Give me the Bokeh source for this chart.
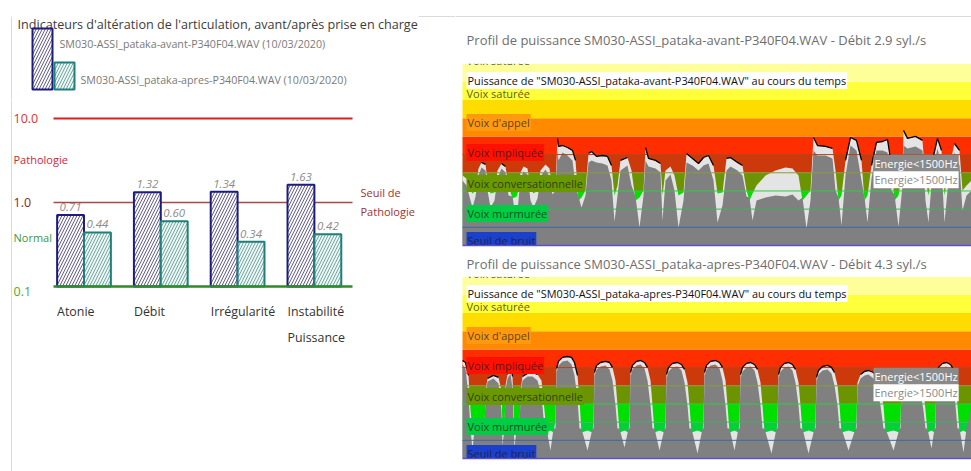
import numpy as np
from bokeh.plotting import figure
from bokeh.layouts import row, column
from bokeh.models import Range1d
from bokeh.core.properties import value
from bokeh.embed import file_html
from bokeh.resources import INLINE

FONT = "Open Sans"

# ------------------------------------------------------------------ data: left chart
categories = ["Atonie", "Débit", "Irrégularité", "Instabilité\nPuissance"]
avant = [0.71, 1.32, 1.34, 1.63]
apres = [0.44, 0.60, 0.34, 0.42]
chart_title = "Indicateurs d'altération de l'articulation, avant/après prise en charge"
legend_avant = "SM030-ASSI_pataka-avant-P340F04.WAV (10/03/2020)"
legend_apres = "SM030-ASSI_pataka-apres-P340F04.WAV (10/03/2020)"
seuil_patho = 10.0
seuil = 1.0
seuil_normal = 0.1

# ------------------------------------------------------------------ data: power profiles (t in s, level in dB)
t_avant = [0.00, 0.08, 0.16, 0.20, 0.26, 0.32, 0.38, 0.46, 0.50, 0.56,
           0.64, 0.70, 0.78, 0.86, 0.92, 1.00, 1.08, 1.12, 1.16, 1.22,
           1.30, 1.36, 1.42, 1.50, 1.56, 1.66, 1.74, 1.80, 1.86, 1.90,
           1.92, 2.00, 2.10, 2.20, 2.26, 2.32, 2.38, 2.46, 2.52, 2.58,
           2.68, 2.80, 2.90, 2.98, 3.04, 3.10, 3.16, 3.30, 3.38, 3.46,
           3.54, 3.62, 3.66, 3.72, 3.86, 3.96, 4.00, 4.06, 4.16, 4.24,
           4.32, 4.42, 4.48, 4.60, 4.72, 4.82, 4.92, 5.02, 5.10, 5.20,
           5.28, 5.36, 5.50, 5.60, 5.68, 5.74, 5.80, 5.88, 6.06, 6.26,
           6.46, 6.60, 6.72, 6.80, 6.88, 6.96, 7.02, 7.10, 7.26, 7.40,
           7.46, 7.52, 7.58, 7.66, 7.76, 7.88, 7.98, 8.04, 8.10, 8.18,
           8.28, 8.40, 8.50, 8.58, 8.64, 8.72, 8.80, 8.82, 8.90, 9.06,
           9.20, 9.26, 9.32, 9.40, 9.50, 9.58, 9.64, 9.72, 9.84, 9.94,
           10.00, 10.08, 10.18]
light_avant = [38.5, 36.9, 30.3, 28.6, 30.3, 42.4, 45.7, 44.6, 35.8, 28.6,
               29.2, 41.3, 45.1, 43.5, 33.0, 25.9, 27.0, 30.3, 40.2, 43.5,
               42.4, 31.4, 28.6, 30.3, 41.3, 44.6, 42.4, 30.3, 33.0, 58.9,
               54.5, 55.0, 53.9, 52.3, 46.8, 24.8, 26.4, 30.3, 50.6, 51.7,
               49.0, 49.5, 49.0, 44.0, 27.5, 33.0, 46.8, 48.4, 41.3, 24.8,
               26.4, 30.3, 53.9, 47.9, 46.8, 45.1, 27.5, 41.3, 43.5, 38.5,
               27.5, 29.2, 50.6, 47.9, 45.1, 48.4, 49.5, 44.0, 28.6, 29.2,
               47.9, 48.4, 45.7, 44.0, 30.3, 24.8, 28.6, 33.0, 38.5, 41.3,
               42.9, 42.4, 38.5, 24.8, 27.5, 30.3, 59.4, 55.0, 54.5, 53.4,
               41.3, 24.8, 27.5, 46.8, 59.4, 57.8, 46.8, 24.8, 27.5, 44.0,
               56.7, 57.2, 58.3, 44.0, 24.8, 27.5, 41.3, 63.3, 58.9, 60.0,
               57.8, 35.8, 27.5, 46.8, 58.9, 52.3, 27.5, 41.3, 56.1, 52.3,
               30.3, 33.0, 35.8]
gray_avant = [35.8, 33.0, 24.8, 20.9, 27.0, 38.5, 42.9, 41.3, 30.3, 20.9,
              24.8, 36.9, 42.4, 40.2, 27.5, 27.0, 12.7, 24.8, 36.9, 40.7,
              39.1, 24.8, 20.9, 25.9, 38.0, 41.8, 38.0, 28.1, 30.3, 52.3,
              46.8, 51.2, 49.5, 46.8, 33.0, 27.0, 20.9, 27.5, 45.7, 46.8,
              45.7, 45.1, 44.0, 35.8, 13.0, 27.5, 41.3, 44.0, 33.0, 27.0,
              9.9, 27.5, 46.8, 43.5, 42.4, 40.2, 13.8, 35.8, 39.1, 30.3,
              9.9, 24.8, 45.7, 44.0, 41.3, 44.0, 45.1, 35.8, 12.7, 22.0,
              41.3, 43.5, 41.3, 38.5, 27.0, 26.4, 13.8, 24.8, 26.4, 27.5,
              27.0, 28.1, 24.8, 26.4, 9.4, 24.8, 52.3, 49.5, 49.5, 47.9,
              30.3, 26.4, 11.0, 38.5, 55.0, 52.3, 35.8, 26.4, 12.7, 36.9,
              52.3, 52.3, 51.2, 30.3, 28.1, 10.5, 33.0, 55.0, 53.4, 54.5,
              52.3, 24.8, 12.7, 41.3, 53.4, 44.0, 12.7, 35.8, 51.2, 44.0,
              19.3, 27.5, 30.3]

t_apres = [0.00, 0.06, 0.12, 0.16, 0.20, 0.24, 0.44, 0.46, 0.50, 0.62,
           0.72, 0.78, 0.80, 0.84, 0.86, 0.90, 0.96, 1.00, 1.04, 1.08,
           1.14, 1.16, 1.20, 1.30, 1.40, 1.50, 1.58, 1.64, 1.68, 1.76,
           1.82, 1.86, 1.88, 1.92, 2.00, 2.10, 2.18, 2.24, 2.30, 2.34,
           2.38, 2.50, 2.60, 2.62, 2.64, 2.68, 2.76, 2.86, 2.94, 3.00,
           3.06, 3.10, 3.14, 3.24, 3.32, 3.34, 3.36, 3.40, 3.48, 3.56,
           3.64, 3.70, 3.76, 3.80, 3.84, 3.94, 4.04, 4.06, 4.08, 4.12,
           4.20, 4.30, 4.38, 4.44, 4.50, 4.54, 4.58, 4.70, 4.80, 4.82,
           4.84, 4.88, 4.96, 5.06, 5.14, 5.20, 5.26, 5.30, 5.34, 5.44,
           5.52, 5.54, 5.56, 5.60, 5.68, 5.76, 5.84, 5.90, 5.96, 6.00,
           6.04, 6.18, 6.28, 6.30, 6.32, 6.36, 6.44, 6.52, 6.60, 6.66,
           6.72, 6.76, 6.80, 6.92, 7.04, 7.06, 7.08, 7.12, 7.20, 7.30,
           7.38, 7.44, 7.50, 7.54, 7.58, 7.72, 7.86, 7.88, 7.90, 7.96,
           8.04, 8.12, 8.22, 8.30, 8.36, 8.42, 8.46, 8.62, 8.74, 8.76,
           8.78, 8.84, 8.92, 9.00, 9.08, 9.16, 9.22, 9.26, 9.30, 9.38,
           9.44, 9.46, 9.48, 9.52, 9.60, 9.68, 9.76, 9.82, 9.86, 9.90,
           9.94, 10.02, 10.08, 10.14, 10.18]
light_apres = [53.9, 52.8, 45.7, 26.4, 15.4, 14.3, 14.3, 37.4, 44.0, 45.7,
               44.6, 37.4, 15.4, 14.3, 40.2, 46.2, 55.6, 45.1, 15.4, 14.3,
               14.3, 37.4, 45.1, 46.8, 47.3, 46.2, 42.9, 26.4, 14.3, 15.4,
               14.3, 20.9, 49.5, 53.4, 55.6, 56.1, 55.6, 52.8, 45.7, 31.9,
               14.3, 15.4, 14.3, 20.9, 47.3, 51.2, 52.8, 53.4, 52.8, 50.1,
               42.9, 29.2, 14.3, 15.4, 14.3, 20.9, 47.3, 51.2, 53.4, 53.9,
               52.8, 50.1, 42.9, 29.2, 14.3, 15.4, 14.3, 20.9, 46.2, 50.1,
               52.3, 52.8, 51.7, 49.0, 41.8, 29.2, 14.3, 15.4, 14.3, 20.9,
               47.3, 51.2, 53.4, 53.9, 52.8, 50.1, 42.9, 29.2, 14.3, 15.4,
               14.3, 20.9, 46.2, 50.1, 52.3, 52.8, 51.7, 49.0, 41.8, 29.2,
               14.3, 15.4, 14.3, 20.9, 46.2, 50.1, 52.3, 52.8, 51.7, 49.0,
               41.8, 29.2, 14.3, 15.4, 14.3, 20.9, 44.6, 48.4, 50.6, 51.2,
               50.1, 47.3, 40.2, 29.2, 14.3, 15.4, 14.3, 20.9, 41.8, 46.2,
               47.9, 48.4, 47.3, 44.6, 38.5, 29.2, 14.3, 15.4, 14.3, 20.9,
               40.7, 45.1, 46.8, 47.3, 46.2, 43.5, 37.4, 26.4, 14.3, 15.4,
               14.3, 20.9, 46.2, 50.1, 52.3, 52.8, 51.7, 49.0, 41.8, 29.2,
               14.3, 15.4, 14.3, 20.9, 26.4]
gray_apres = [51.7, 49.5, 34.7, 16.5, 4.4, 16.5, 16.5, 34.7, 42.4, 44.0,
              41.3, 26.4, 7.2, 16.5, 37.4, 44.0, 46.8, 38.5, 5.5, 16.5,
              16.5, 34.7, 42.9, 45.1, 45.1, 42.9, 34.7, 16.5, 16.5, 4.4,
              16.5, 16.5, 47.3, 51.2, 53.4, 53.9, 51.7, 45.7, 33.0, 16.5,
              16.5, 4.4, 16.5, 16.5, 45.1, 49.0, 50.6, 51.2, 49.0, 42.9,
              29.2, 16.5, 16.5, 6.1, 16.5, 16.5, 45.1, 49.0, 51.2, 51.7,
              49.5, 42.9, 29.2, 16.5, 16.5, 4.4, 16.5, 16.5, 44.0, 47.9,
              50.1, 50.6, 48.4, 41.8, 29.2, 16.5, 16.5, 2.8, 16.5, 16.5,
              45.1, 49.0, 51.2, 51.7, 49.5, 42.9, 29.2, 16.5, 16.5, 4.4,
              16.5, 16.5, 44.0, 47.9, 50.1, 50.6, 48.4, 41.8, 29.2, 16.5,
              16.5, 2.8, 16.5, 16.5, 44.0, 47.9, 50.1, 50.6, 48.4, 41.8,
              29.2, 16.5, 16.5, 2.8, 16.5, 16.5, 42.4, 46.2, 48.4, 49.0,
              46.8, 40.2, 29.2, 16.5, 16.5, 4.4, 16.5, 16.5, 39.6, 44.0,
              45.7, 46.2, 44.0, 37.4, 29.2, 16.5, 16.5, 4.4, 16.5, 16.5,
              38.5, 42.9, 44.6, 45.1, 42.9, 36.3, 26.4, 16.5, 16.5, 5.5,
              16.5, 16.5, 44.0, 47.9, 50.1, 50.6, 48.4, 41.8, 29.2, 16.5,
              16.5, 3.3, 16.5, 23.7, 28.1]

profile_titles = ["Profil de puissance SM030-ASSI_pataka-avant-P340F04.WAV - Débit 2.9 syl./s",
                  "Profil de puissance SM030-ASSI_pataka-apres-P340F04.WAV - Débit 4.3 syl./s"]
profile_captions = ['Puissance de "SM030-ASSI_pataka-avant-P340F04.WAV" au cours du temps',
                    'Puissance de "SM030-ASSI_pataka-apres-P340F04.WAV" au cours du temps']
band_edges = [0, 10, 20, 30, 40, 50, 60, 70, 80, 90, 100]
band_colors = ["#5a6ad0", "#00d236", "#00e000", "#6b9400", "#cc3a0c",
               "#ff2e00", "#ff8a00", "#ffdc00", "#ffff3a", "#ffff9a"]
line_colors = ["#5b4fd0", "#3a6aa0", "#3fb060", "#30cc40", "#8a9a40", "#b8401e"]
zone_labels = ["Voix saturée", "Voix saturée", "Voix d'appel", "Voix impliquée",
               "Voix conversationnelle", "Voix murmurée", "Seuil de bruit"]
zone_label_db = [101.8, 83.6, 67.6, 51.2, 34.1, 17.6, 2.8]
zone_label_bg = [None, None, "#ff9a10", "#ff1000", "#6a9800", "#00cc44", "#1a40cc"]
energy_labels = ["Energie<1500Hz", "Energie>1500Hz"]
energy_label_db = [45.2, 36.1]

# ------------------------------------------------------------------ helpers
def base_fig(width, height, xr, yr, log=False):
    kw = dict(width=width, height=height, x_range=xr, y_range=yr,
              output_backend="svg", toolbar_location=None, min_border=0,
              x_axis_location=None, y_axis_location=None, title=None,
              background_fill_color="white", border_fill_color="white",
              outline_line_color=None)
    if log:
        kw["y_axis_type"] = "log"
    p = figure(**kw)
    p.xgrid.visible = False
    p.ygrid.visible = False
    return p

FRAME = "#dadada"
AV_FILL, AV_LINE, AV_HATCH = "#fbf8fb", "#1c1c80", "#3c3c6c"
AP_FILL, AP_LINE, AP_HATCH = "#e8f7f4", "#1f7f7a", "#5f8f8c"

# ------------------------------------------------------------------ left header (title + legend), page pixel coords
hdr = base_fig(455, 100, Range1d(0, 455), Range1d(100, 0))
hdr.segment(x0=[11, 418], y0=[16, 16], x1=[11, 455], y1=[100, 16], line_color=FRAME, line_width=1)
hdr.text(x=[17], y=[24], text=[chart_title], text_font=value(FONT), text_font_size="12.6px",
         text_color="#3c3c3c", text_baseline="alphabetic")
hdr.quad(left=[32], right=[52], top=[28], bottom=[89], fill_color=AV_FILL, line_color=AV_LINE,
         line_width=2, hatch_pattern="/", hatch_color=AV_HATCH, hatch_scale=6, hatch_weight=0.8)
hdr.quad(left=[54], right=[74], top=[62], bottom=[89], fill_color=AP_FILL, line_color=AP_LINE,
         line_width=2, hatch_pattern="/", hatch_color=AP_HATCH, hatch_scale=6, hatch_weight=0.8)
hdr.text(x=[59, 80], y=[43, 79], text=[legend_avant, legend_apres], text_font=value(FONT),
         text_font_size="10.7px", text_color="#7a7a7a", text_baseline="middle")

# ------------------------------------------------------------------ left chart (log scale)
PX_DEC = 84.0      # pixels per decade
Y01 = 286.0        # page y of 0.1
def ylog(py):
    return 10 ** (-1 + (Y01 - py) / PX_DEC)

X0, XS = 83.5, 76.8   # page x of first group centre, pixels per group
def xu(px):
    return (px - X0) / XS

chart = base_fig(455, 371, Range1d(xu(0), xu(455)), Range1d(ylog(471), ylog(100)), log=True)
idx = np.arange(len(categories))
w = 0.35
chart.segment(x0=[xu(11)], y0=[ylog(471)], x1=[xu(11)], y1=[ylog(100)], line_color=FRAME)
xl, xr_ = xu(53), xu(352)
chart.segment(x0=[xl], x1=[xr_], y0=[seuil_patho], y1=[seuil_patho], line_color="#e41a1c", line_width=2)
chart.segment(x0=[xl], x1=[xr_], y0=[seuil], y1=[seuil], line_color="#a8484a", line_width=1.5)

chart.vbar(x=idx - w / 2, top=avant, bottom=seuil_normal, width=w, fill_color=AV_FILL,
           line_color=AV_LINE, line_width=2, hatch_pattern="/", hatch_color=AV_HATCH,
           hatch_scale=6, hatch_weight=0.8)
chart.vbar(x=idx + w / 2, top=apres, bottom=seuil_normal, width=w, fill_color=AP_FILL,
           line_color=AP_LINE, line_width=2, hatch_pattern="/", hatch_color=AP_HATCH,
           hatch_scale=6, hatch_weight=0.8)
chart.segment(x0=[xl], x1=[xr_], y0=[seuil_normal], y1=[seuil_normal], line_color="#2f8a2a", line_width=2.5)

lab_up = 10 ** (4 / PX_DEC)
chart.text(x=list(idx - w / 2) + list(idx + w / 2), y=[v * lab_up for v in avant + apres],
           text=[f"{v:.2f}" for v in avant + apres], text_font=value(FONT), text_font_size="11.5px",
           text_font_style="italic", text_color="#8c8c8c", text_align="center", text_baseline="bottom")
chart.text(x=idx - w, y=[ylog(302)] * len(categories), text=categories, text_font=value(FONT),
           text_font_size="12.4px", text_color="#333333", text_align="left", text_baseline="top",
           text_line_height=1.55)

ylab_x = xu(13)
chart.text(x=[ylab_x] * 5, y=[seuil_patho, ylog(159), seuil, ylog(237), ylog(291)],
           text=[f"{seuil_patho:.1f}", "Pathologie", f"{seuil:.1f}", "Normal", f"{seuil_normal:.1f}"],
           text_font=value(FONT), text_font_size=["12.5px", "11px", "12.5px", "11px", "12.5px"],
           text_color=["#e03030", "#d0263a", "#8b2323", "#3a9a3a", "#5aa62a"], text_baseline="middle")
chart.text(x=[xu(360)] * 2, y=[ylog(192), ylog(211)], text=["Seuil de", "Pathologie"],
           text_font=value(FONT), text_font_size="11px", text_color="#a03232", text_baseline="middle")

# ------------------------------------------------------------------ power profiles
T_LEFT, T_RIGHT = -0.14, 10.18

def profile(height, db_bottom, db_top, t, light, gray, title, title_db, caption, frame_db=None):
    p = base_fig(516, height, Range1d(T_LEFT, T_RIGHT), Range1d(db_bottom, db_top))
    p.quad(left=0, right=11, bottom=band_edges[:-1], top=band_edges[1:],
           fill_color=band_colors, line_color=None)
    p.varea(x=t, y1=0, y2=light, fill_color="#e4e4e4")
    p.varea(x=t, y1=0, y2=gray, fill_color="#808080")
    p.segment(x0=0, x1=11, y0=band_edges[1:6], y1=band_edges[1:6], line_color=line_colors[1:],
              line_width=1)
    la = np.array(light)
    p.line(x=t, y=np.where(la >= 43, la, np.nan), line_color="black", line_width=1.3)
    for lab, db, bg in zip(zone_labels, zone_label_db, zone_label_bg):
        kw = dict(background_fill_color=bg, padding=1) if bg else {}
        p.text(x=[0.08], y=[db], text=[lab], text_font=value(FONT), text_font_size="11px",
               text_color="#1a1a1a", text_alpha=0.75, text_baseline="middle", **kw)
    p.text(x=[0.08], y=[90.8], text=[caption], text_font=value(FONT), text_font_size="10.9px",
           text_color="#111111", text_baseline="middle", background_fill_color="white", padding=1)
    p.text(x=[8.22], y=[energy_label_db[0]], text=[energy_labels[0]], text_font=value(FONT),
           text_font_size="11px", text_color="white", text_baseline="middle",
           background_fill_color="#8a8a8a", padding=1)
    p.text(x=[8.22], y=[energy_label_db[1]], text=[energy_labels[1]], text_font=value(FONT),
           text_font_size="11px", text_color="#8a8a8a", text_baseline="middle",
           background_fill_color="white", padding=1)
    # clip everything outside the 0..100 dB zone
    p.quad(left=T_LEFT, right=T_RIGHT, bottom=[100, db_bottom - 5], top=[db_top + 5, 0],
           fill_color="white", line_color=None)
    p.segment(x0=0, x1=11, y0=0, y1=0, line_color=line_colors[0], line_width=1.5)
    p.text(x=[0.08], y=[title_db], text=[title], text_font=value(FONT), text_font_size="13px",
           text_color="#6e6e6e", text_baseline="middle")
    if frame_db is not None:
        p.segment(x0=T_LEFT, x1=T_RIGHT, y0=frame_db, y1=frame_db, line_color=FRAME)
    return p

top = profile(250, -2.75, 134.75, t_avant, light_avant, gray_avant, profile_titles[0], 113.0,
              profile_captions[0], frame_db=125.95)
bot = profile(221, -7.15, 114.4, t_apres, light_apres, gray_apres, profile_titles[1], 107.0,
              profile_captions[1])

layout = row(column(hdr, chart), column(top, bot))
open("out.html", "w").write(file_html(layout, INLINE, "Indicateurs"))
